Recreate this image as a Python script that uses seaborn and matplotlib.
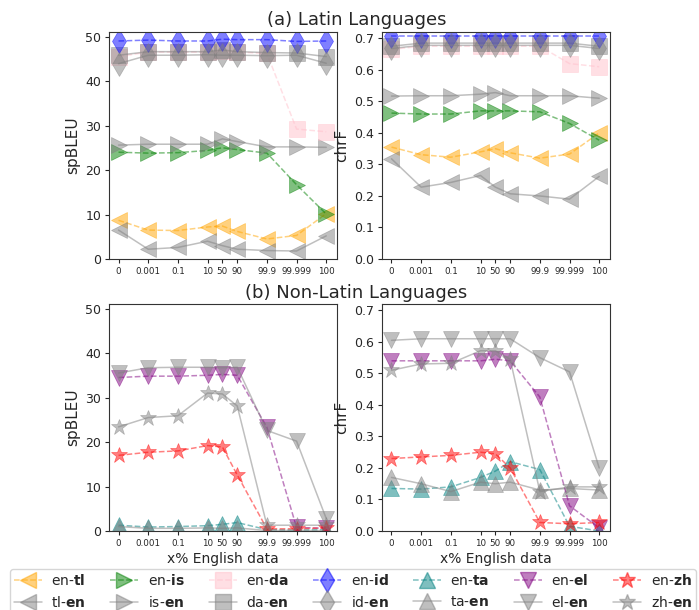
import numpy as np
import pandas as pd
import matplotlib
matplotlib.use("Agg")
import matplotlib.pyplot as plt
from matplotlib.lines import Line2D
import seaborn as sns

sns.set_style("white")
plt.rcParams['font.family'] = ['DejaVu Sans']

x_labels = ["0", "0.001", "0.1", "10", "50", "90", "99.9", "99.999", "100"]
x_pos = [0, 1, 2, 3, 3.5, 4, 5, 6, 7]

# Latin: spBLEU
lat_bleu = {
    "en-tl": [8.7, 6.5, 6.4, 7.2, 7.4, 6.2, 4.5, 5.3, 10.2],
    "tl-en": [6.5, 2.2, 2.6, 4.0, 3.0, 2.2, 1.9, 1.8, 5.2],
    "en-is": [24.0, 23.8, 23.9, 24.4, 25.0, 24.6, 23.8, 16.7, 10.1],
    "is-en": [25.6, 25.8, 25.8, 25.8, 27.0, 26.4, 25.2, 25.2, 25.1],
    "en-da": [45.5, 46.5, 46.5, 46.5, 46.8, 46.5, 46.2, 29.2, 28.6],
    "da-en": [45.8, 46.6, 46.6, 46.6, 47.0, 46.6, 46.4, 46.3, 45.5],
    "en-id": [49.0, 49.2, 49.0, 49.0, 49.4, 49.3, 49.3, 48.9, 49.0],
    "id-en": [43.9, 45.8, 45.8, 45.9, 45.8, 45.8, 45.7, 45.8, 44.0],
}
# Latin: chrF
lat_chrf = {
    "en-tl": [0.355, 0.331, 0.323, 0.340, 0.350, 0.337, 0.320, 0.333, 0.400],
    "tl-en": [0.318, 0.228, 0.243, 0.265, 0.228, 0.207, 0.200, 0.190, 0.262],
    "en-is": [0.463, 0.460, 0.460, 0.470, 0.470, 0.470, 0.467, 0.430, 0.377],
    "is-en": [0.517, 0.518, 0.518, 0.523, 0.528, 0.518, 0.518, 0.518, 0.510],
    "en-da": [0.665, 0.675, 0.675, 0.675, 0.675, 0.675, 0.675, 0.620, 0.610],
    "da-en": [0.675, 0.685, 0.685, 0.685, 0.685, 0.685, 0.685, 0.685, 0.675],
    "en-id": [0.708, 0.708, 0.708, 0.708, 0.708, 0.708, 0.708, 0.708, 0.708],
    "id-en": [0.668, 0.678, 0.678, 0.678, 0.678, 0.678, 0.678, 0.678, 0.668],
}
# Non-Latin: spBLEU
nonlat_bleu = {
    "en-ta": [1.3, 0.9, 1.0, 1.2, 1.5, 1.9, 0.3, 0.2, 0.3],
    "ta-en": [1.0, 0.6, 0.6, 0.7, 0.6, 0.7, 0.1, 0.1, 0.1],
    "en-el": [34.5, 34.8, 34.8, 35.0, 35.2, 35.0, 23.3, 0.8, 0.6],
    "el-en": [35.5, 36.7, 36.8, 36.8, 36.7, 36.8, 22.6, 20.2, 2.8],
    "en-zh": [17.0, 17.7, 18.0, 19.2, 18.9, 12.6, 0.5, 0.5, 0.7],
    "zh-en": [23.4, 25.5, 25.9, 31.0, 30.8, 28.1, 1.3, 1.3, 1.3],
}
# Non-Latin: chrF
nonlat_chrf = {
    "en-ta": [0.135, 0.133, 0.140, 0.170, 0.190, 0.220, 0.195, 0.015, 0.0],
    "ta-en": [0.170, 0.150, 0.125, 0.155, 0.150, 0.155, 0.130, 0.135, 0.130],
    "en-el": [0.540, 0.540, 0.540, 0.540, 0.545, 0.540, 0.425, 0.080, 0.010],
    "el-en": [0.605, 0.610, 0.610, 0.610, 0.610, 0.610, 0.550, 0.505, 0.200],
    "en-zh": [0.230, 0.235, 0.240, 0.250, 0.245, 0.200, 0.027, 0.023, 0.027],
    "zh-en": [0.510, 0.530, 0.532, 0.572, 0.572, 0.545, 0.125, 0.140, 0.140],
}

langs = ["tl", "is", "da", "id", "ta", "el", "zh"]
lang_colors = {"tl": "orange", "is": "green", "da": "pink", "id": "blue",
               "ta": "teal", "el": "purple", "zh": "red"}
lang_markers = {"tl": "<", "is": ">", "da": "s", "id": "d",
                "ta": "^", "el": "v", "zh": "*"}


def style_for(name):
    a, b = name.split("-")
    if a == "en":
        return b, lang_colors[b], "--"
    return a, "gray", "-"


def draw(ax, data):
    for name, vals in data.items():
        lang, color, ls = style_for(name)
        df = pd.DataFrame({"x": x_pos, "y": vals})
        sns.lineplot(data=df, x="x", y="y", ax=ax, color=color, linestyle=ls,
                     marker=lang_markers[lang], markersize=12, alpha=0.5,
                     markeredgecolor=color, markeredgewidth=0.5, linewidth=1.1)
    ax.set_xticks(x_pos)
    ax.set_xticklabels(x_labels, fontsize=6.3)
    ax.set_xlim(-0.32, 7.36)
    ax.tick_params(axis="y", labelsize=9)
    for s in ax.spines.values():
        s.set_visible(True)
        s.set_color("#333333")
    ax.tick_params(axis="both", which="both", length=3, direction="out",
                   bottom=True, left=True, pad=2.5)


fig = plt.figure(figsize=(6.99, 6.10), dpi=100)
ax1 = fig.add_axes([0.156, 0.5754, 0.326, 0.372])
ax2 = fig.add_axes([0.5465, 0.5754, 0.326, 0.372])
ax3 = fig.add_axes([0.156, 0.1295, 0.326, 0.372])
ax4 = fig.add_axes([0.5465, 0.1295, 0.326, 0.372])

draw(ax1, lat_bleu)
draw(ax2, lat_chrf)
draw(ax3, nonlat_bleu)
draw(ax4, nonlat_chrf)

for ax in (ax1, ax3):
    ax.set_ylim(0, 51)
    ax.set_yticks([0, 10, 20, 30, 40, 50])
    ax.set_ylabel("spBLEU", fontsize=11)
for ax in (ax2, ax4):
    ax.set_ylim(0, 0.72)
    ax.set_yticks(np.arange(0, 0.71, 0.1))
    ax.set_ylabel("chrF", fontsize=11)
for ax in (ax1, ax2):
    ax.set_xlabel("")
for ax in (ax3, ax4):
    ax.set_xlabel("x% English data", fontsize=10, labelpad=3)

fig.text(0.51, 0.968, "(a) Latin Languages", ha="center", va="center", fontsize=13)
fig.text(0.51, 0.519, "(b) Non-Latin Languages", ha="center", va="center", fontsize=13)

handles = []
labels = []
for lang in langs:
    c = lang_colors[lang]
    m = lang_markers[lang]
    handles.append(Line2D([], [], color=c, linestyle="--", marker=m, markersize=12,
                          alpha=0.5, markeredgecolor=c, linewidth=1.1))
    labels.append(r"en-$\bf{" + lang + "}$")
    handles.append(Line2D([], [], color="gray", linestyle="-", marker=m, markersize=12,
                          alpha=0.5, markeredgecolor="gray", linewidth=1.1))
    labels.append(lang + r"-$\bf{en}$")

fig.legend(handles, labels, ncol=7, loc="upper left",
           bbox_to_anchor=(0.014, 0.067), fontsize=10, frameon=True,
           columnspacing=1.75, handlelength=2.0, handletextpad=0.7,
           borderpad=0.3, borderaxespad=0.0)

fig.savefig("out.png", dpi=100)
